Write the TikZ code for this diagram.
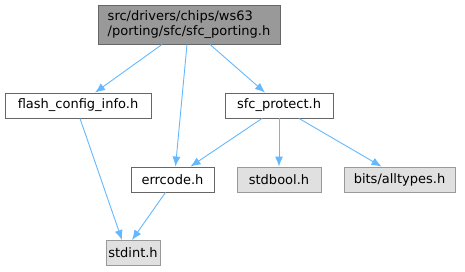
\documentclass[tikz,border=0pt]{standalone}
\usepackage{fontspec}
\setmainfont{DejaVu Sans}
\usetikzlibrary{arrows.meta}
\definecolor{edgeblue}{HTML}{63B8FF}
\begin{document}
\begin{tikzpicture}[
    x=1pt, y=-1pt,
    every node/.style={font=\fontsize{13}{15}\selectfont, align=left, inner sep=0pt},
    file/.style={rectangle, draw=black!60, fill=white, line width=0.9pt, minimum height=25pt},
    sysfile/.style={file, draw=black!40, fill=black!12},
    cur/.style={file, draw=black!60, fill=black!40, minimum height=39pt},
    arr/.style={-{Latex[length=10pt, width=8pt]}, edgeblue, line width=0.9pt}
]
\useasboundingbox (0,0) rectangle (465,271);
\node[cur, minimum width=182pt] (sp) at (189, 24.5)
    {src/drivers/chips/ws63\\/porting/sfc/sfc\_porting.h};
\node[file, minimum width=146pt] (fci) at (78, 105.5) {flash\_config\_info.h};
\node[file, minimum width=108pt] (sfp) at (279, 105.5) {sfc\_protect.h};
\node[file, minimum width=83pt] (err) at (172.5, 179.5) {errcode.h};
\node[sysfile, minimum width=84pt] (sb) at (279, 179.5) {stdbool.h};
\node[sysfile, minimum width=111pt] (at) at (399.5, 179.5) {bits/alltypes.h};
\node[sysfile, minimum width=54pt] (si) at (133, 253) {stdint.h};
\draw[arr] ([xshift=-27pt]sp.south) -- ([xshift=17pt]fci.north);
\draw[arr] ([xshift=-2pt]sp.south) -- ([xshift=3pt]err.north);
\draw[arr] ([xshift=21pt]sp.south) -- ([xshift=-14pt]sfp.north);
\draw[arr] ([xshift=2pt]fci.south) -- ([xshift=-11pt]si.north);
\draw[arr] ([xshift=-17pt]sfp.south) -- ([xshift=18pt]err.north);
\draw[arr] (sfp.south) -- (sb.north);
\draw[arr] ([xshift=20pt]sfp.south) -- ([xshift=-18pt]at.north);
\draw[arr] ([xshift=-7pt]err.south) -- ([xshift=-1pt]si.north);
\end{tikzpicture}
\end{document}
